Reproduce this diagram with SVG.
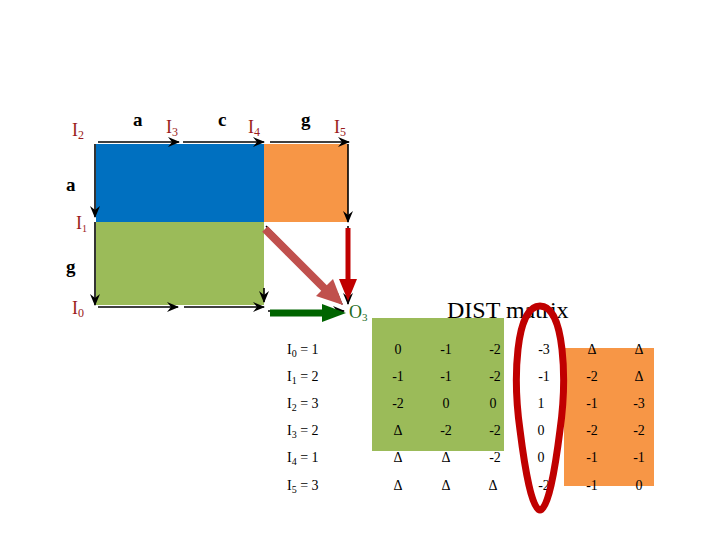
<svg xmlns="http://www.w3.org/2000/svg" width="720" height="540" viewBox="0 0 720 540">
<style>
.lbl{font-family:"Liberation Serif",serif;font-size:18px;fill:#9b1b1b}
.sym{font-family:"Liberation Serif",serif;font-size:19px;font-weight:bold;fill:#000}
.rl{font-family:"Liberation Serif",serif;font-size:14px;fill:#000}
.v{font-family:"Liberation Serif",serif;font-size:14px;fill:#000;text-anchor:middle}
.thin{stroke:#000;stroke-width:1.6;fill:none;marker-end:url(#ah)}
</style>
<defs>
<marker id="ah" markerUnits="userSpaceOnUse" markerWidth="12" markerHeight="10" refX="11" refY="5" orient="auto">
<path d="M0,0 L12,5 L0,10 L4,5 z" fill="#000"/>
</marker>
</defs>
<rect width="720" height="540" fill="#fff"/>
<g id="regions">
<rect id="blue" x="96" y="144" width="168" height="78" fill="#0070c0"/>
<rect id="orange" x="264" y="144" width="84" height="78" fill="#f79646"/>
<rect id="green" x="96" y="222" width="168" height="83" fill="#9bbb59"/>
</g>
<g id="connectors">
<line class="thin" x1="98" y1="142" x2="179" y2="142"/>
<line class="thin" x1="183" y1="142" x2="264" y2="142"/>
<line class="thin" x1="270" y1="142" x2="349" y2="142"/>
<line class="thin" x1="95" y1="144" x2="95" y2="217"/>
<line class="thin" x1="95" y1="222" x2="95" y2="305"/>
<line class="thin" x1="348" y1="144" x2="348" y2="222"/>
<line class="thin" x1="98" y1="307" x2="178" y2="307"/>
<line class="thin" x1="184" y1="307" x2="264" y2="307"/>
<line class="thin" x1="264" y1="288" x2="264" y2="302"/>
<line class="thin" x1="266" y1="226" x2="342" y2="304"/>
<line class="thin" x1="348" y1="226" x2="348" y2="304"/>
<line class="thin" x1="268" y1="311" x2="344" y2="311"/>
<g id="thick">
<line x1="265" y1="229" x2="327" y2="291" stroke="#c0504d" stroke-width="8"/>
<polygon points="343,305 316,296 333,279" fill="#c0504d"/>
<line x1="348" y1="228" x2="348" y2="282" stroke="#c00000" stroke-width="5"/>
<polygon points="339,279 357,279 348,301" fill="#c00000"/>
<line x1="270" y1="313" x2="324" y2="313" stroke="#006400" stroke-width="7"/>
<polygon points="322,304 322,322 346,313" fill="#006400"/>
</g>
</g>
<g id="labels">
<text class="lbl" x="72" y="136">I<tspan font-size="12" dy="3">2</tspan></text>
<text class="sym" x="133" y="126">a</text>
<text class="lbl" x="166" y="133">I<tspan font-size="12" dy="3">3</tspan></text>
<text class="sym" x="218" y="126">c</text>
<text class="lbl" x="248" y="133">I<tspan font-size="12" dy="3">4</tspan></text>
<text class="sym" x="301" y="126">g</text>
<text class="lbl" x="334" y="133">I<tspan font-size="12" dy="3">5</tspan></text>
<text class="sym" x="66" y="191">a</text>
<text class="lbl" x="76" y="229">I<tspan font-size="10" dy="3">1</tspan></text>
<text class="sym" x="66" y="273">g</text>
<text class="lbl" x="72" y="314">I<tspan font-size="12" dy="3">0</tspan></text>
<text x="349" y="318" font-family="'Liberation Serif',serif" font-size="18" fill="#1e6b1e">O<tspan font-size="11" dy="3">3</tspan></text>
</g>
<g id="matrix">
<text x="447" y="318" font-family="'Liberation Serif',serif" font-size="24" fill="#000">DIST matrix</text>
<rect x="372" y="318" width="132" height="133" fill="#9bbb59"/>
<rect x="564" y="348" width="90" height="138" fill="#f79646"/>
<g id="rows">
<text class="rl" x="287" y="354">I<tspan font-size="10" dy="3">0</tspan><tspan dy="-3"> = 1</tspan></text>
<text class="rl" x="287" y="381">I<tspan font-size="10" dy="3">1</tspan><tspan dy="-3"> = 2</tspan></text>
<text class="rl" x="287" y="408">I<tspan font-size="10" dy="3">2</tspan><tspan dy="-3"> = 3</tspan></text>
<text class="rl" x="287" y="435">I<tspan font-size="10" dy="3">3</tspan><tspan dy="-3"> = 2</tspan></text>
<text class="rl" x="287" y="462">I<tspan font-size="10" dy="3">4</tspan><tspan dy="-3"> = 1</tspan></text>
<text class="rl" x="287" y="490">I<tspan font-size="10" dy="3">5</tspan><tspan dy="-3"> = 3</tspan></text>
</g>
<g id="values">
<text class="v" x="398" y="354">0</text><text class="v" x="446" y="354">-1</text><text class="v" x="495" y="354">-2</text><text class="v" x="544" y="354">-3</text><text class="v" x="592" y="354">Δ</text><text class="v" x="639" y="354">Δ</text>
<text class="v" x="398" y="381">-1</text><text class="v" x="446" y="381">-1</text><text class="v" x="495" y="381">-2</text><text class="v" x="544" y="381">-1</text><text class="v" x="592" y="381">-2</text><text class="v" x="639" y="381">Δ</text>
<text class="v" x="398" y="408">-2</text><text class="v" x="446" y="408">0</text><text class="v" x="493" y="408">0</text><text class="v" x="541" y="408">1</text><text class="v" x="592" y="408">-1</text><text class="v" x="639" y="408">-3</text>
<text class="v" x="398" y="435">Δ</text><text class="v" x="446" y="435">-2</text><text class="v" x="495" y="435">-2</text><text class="v" x="541" y="435">0</text><text class="v" x="592" y="435">-2</text><text class="v" x="639" y="435">-2</text>
<text class="v" x="398" y="462">Δ</text><text class="v" x="446" y="462">Δ</text><text class="v" x="495" y="462">-2</text><text class="v" x="541" y="462">0</text><text class="v" x="592" y="462">-1</text><text class="v" x="639" y="462">-1</text>
<text class="v" x="398" y="490">Δ</text><text class="v" x="446" y="490">Δ</text><text class="v" x="493" y="490">Δ</text><text class="v" x="544" y="490">-2</text><text class="v" x="592" y="490">-1</text><text class="v" x="639" y="490">0</text>
</g>
<path id="oval" d="M540,306 C565,306 567,380 560,430 C555,470 548,510 540,510 C532,510 525,470 520,430 C513,380 515,306 540,306 Z" fill="none" stroke="#c00000" stroke-width="7"/>
</g>
</svg>
